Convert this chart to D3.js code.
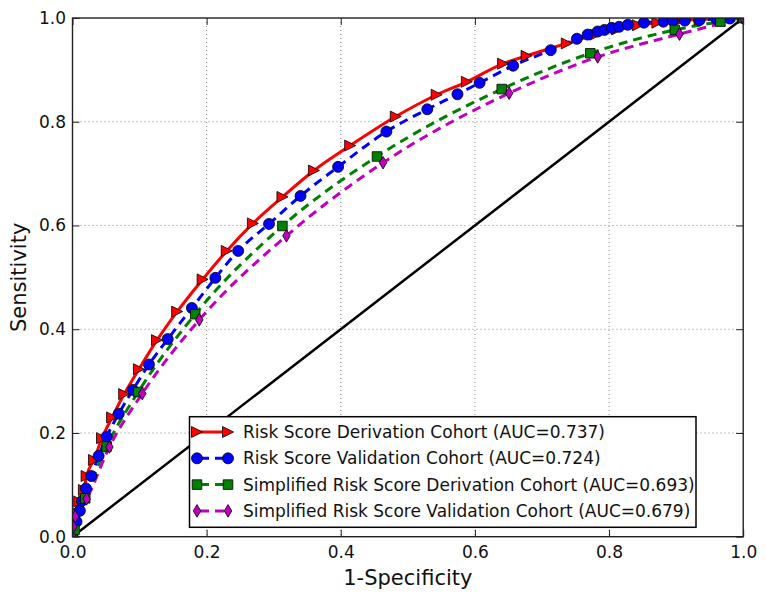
<!DOCTYPE html>
<html><head><meta charset="utf-8">
<script src="https://cdn.jsdelivr.net/npm/d3@7"></script>
<style>html,body{margin:0;padding:0;background:#fff;}svg{display:block;font-family:"DejaVu Sans",sans-serif;}</style>
</head><body><svg id="c" width="766" height="601"></svg>
<script>
const xTicks = [0.0, 0.2, 0.4, 0.6, 0.8, 1.0];
const yTicks = [0.0, 0.2, 0.4, 0.6, 0.8, 1.0];
const seriesNames = [
  "Risk Score Derivation Cohort (AUC=0.737)",
  "Risk Score Validation Cohort (AUC=0.724)",
  "Simplified Risk Score Derivation Cohort (AUC=0.693)",
  "Simplified Risk Score Validation Cohort (AUC=0.679)"
];
const redX = [0,0.003,0.004,0.010,0.017,0.021,0.032,0.044,0.059,0.077,0.099,0.126,0.156,0.194,0.230,0.269,0.313,0.360,0.414,0.482,0.543,0.588,0.642,0.677,0.737,0.780,0.812,0.843,0.872,0.905,0.935,0.965,1];
const redY = [0,0.026,0.048,0.068,0.090,0.117,0.148,0.190,0.230,0.275,0.323,0.379,0.434,0.496,0.551,0.604,0.655,0.706,0.754,0.810,0.852,0.877,0.912,0.927,0.951,0.968,0.978,0.986,0.991,0.995,0.997,0.999,1];
const blueX = [0,0.006,0.011,0.014,0.020,0.028,0.039,0.051,0.069,0.090,0.114,0.142,0.178,0.213,0.247,0.293,0.340,0.396,0.468,0.529,0.574,0.607,0.657,0.713,0.752,0.768,0.783,0.793,0.804,0.815,0.828,0.852,0.881,0.895,0.913,0.935,0.960,0.980,1];
const blueY = [0,0.029,0.050,0.069,0.093,0.117,0.156,0.193,0.237,0.283,0.332,0.381,0.441,0.499,0.551,0.603,0.657,0.713,0.781,0.824,0.853,0.875,0.908,0.938,0.960,0.968,0.974,0.977,0.981,0.983,0.987,0.991,0.993,0.995,0.995,0.996,0.998,0.999,1];
const greenX = [0,0.003,0.019,0.051,0.098,0.183,0.313,0.454,0.640,0.772,0.898,0.966,1];
const greenY = [0,0.013,0.074,0.174,0.279,0.429,0.599,0.733,0.863,0.932,0.977,0.993,1];
const magX = [0,0.001,0.004,0.021,0.055,0.104,0.189,0.319,0.463,0.651,0.783,0.905,1];
const magY = [0,0.019,0.039,0.073,0.173,0.276,0.418,0.580,0.721,0.855,0.925,0.969,1];

const colors = ["#ff0000", "#0000ff", "#008000", "#bf00bf"];
const dashes = [null, "9,6", "9,6", "9,6"];
const markers = ["tri", "circle", "square", "diamond"];

const L = 72.5, R = 743.2, T = 18, B = 536.7;
const x = d3.scaleLinear().domain([0,1]).range([L,R]);
const y = d3.scaleLinear().domain([0,1]).range([B,T]);
const svg = d3.select("#c");

const symTri = {draw(ctx, s){ const h=s; ctx.moveTo(h,0); ctx.lineTo(-h,-h); ctx.lineTo(-h,h); ctx.closePath(); }};
const symDiamond = {draw(ctx, s){ ctx.moveTo(0,-s); ctx.lineTo(s*0.6,0); ctx.lineTo(0,s); ctx.lineTo(-s*0.6,0); ctx.closePath(); }};
const symSquare = {draw(ctx, s){ ctx.rect(-s,-s,2*s,2*s); }};
const symCircle = {draw(ctx, s){ ctx.moveTo(s,0); ctx.arc(0,0,s,0,2*Math.PI); }};
const symbolMap = {tri:[symTri,5.5], circle:[symCircle,5.5], square:[symSquare,4.8], diamond:[symDiamond,6.3]};
function sym(k){ const [t,s]=symbolMap[k]; return d3.symbol().type(t).size(s)(); }

svg.append("defs").append("clipPath").attr("id","clip")
  .append("rect").attr("x",L).attr("y",T).attr("width",R-L).attr("height",B-T);

const grid = svg.append("g");
xTicks.filter(v=>v>0&&v<1).forEach(v=>{
  grid.append("line").attr("x1",x(v)).attr("x2",x(v)).attr("y1",T).attr("y2",B)
    .attr("stroke","#888").attr("stroke-width",1).attr("stroke-dasharray","1,3");
});
yTicks.filter(v=>v>0&&v<1).forEach(v=>{
  grid.append("line").attr("x1",L).attr("x2",R).attr("y1",y(v)).attr("y2",y(v))
    .attr("stroke","#888").attr("stroke-width",1).attr("stroke-dasharray","1,3");
});

const plot = svg.append("g").attr("clip-path","url(#clip)");
plot.append("line").attr("x1",x(0)).attr("y1",y(0)).attr("x2",x(1)).attr("y2",y(1))
  .attr("stroke","#000").attr("stroke-width",2.5);

const seriesData = [[redX,redY],[blueX,blueY],[greenX,greenY],[magX,magY]];
const line = d3.line().x(d=>x(d[0])).y(d=>y(d[1])).curve(d3.curveMonotoneX);

seriesData.forEach(([xs,ys],i)=>{
  const pts = xs.map((v,j)=>[v,ys[j]]);
  const p = plot.append("path").datum(pts).attr("d",line).attr("fill","none")
    .attr("stroke",colors[i]).attr("stroke-width",3);
  if(dashes[i]) p.attr("stroke-dasharray",dashes[i]);
});
seriesData.forEach(([xs,ys],i)=>{
  const pts = xs.map((v,j)=>[v,ys[j]]);
  plot.append("g").selectAll("path").data(pts).join("path")
    .attr("transform",d=>`translate(${x(d[0])},${y(d[1])})`)
    .attr("d",sym(markers[i])).attr("fill",colors[i]).attr("stroke","#000").attr("stroke-width",0.8);
});

svg.append("rect").attr("x",L).attr("y",T).attr("width",R-L).attr("height",B-T)
  .attr("fill","none").attr("stroke","#222").attr("stroke-width",1.4);

const fmt = d3.format(".1f");
svg.append("g").attr("transform",`translate(0,${B})`)
  .call(d3.axisBottom(x).tickValues(xTicks).tickFormat(fmt).tickSizeInner(-7).tickSizeOuter(0).tickPadding(9))
  .call(g=>{g.select(".domain").remove(); g.selectAll("text").attr("font-size",17).attr("fill","#111").attr("font-family","DejaVu Sans"); g.selectAll("line").attr("stroke","#222");});
svg.append("g").attr("transform",`translate(${L},0)`)
  .call(d3.axisLeft(y).tickValues(yTicks).tickFormat(fmt).tickSizeInner(-7).tickSizeOuter(0).tickPadding(6.5))
  .call(g=>{g.select(".domain").remove(); g.selectAll("text").attr("font-size",17).attr("fill","#111").attr("font-family","DejaVu Sans"); g.selectAll("line").attr("stroke","#222");});
svg.append("g").attr("transform",`translate(0,${T})`)
  .call(d3.axisTop(x).tickValues(xTicks).tickFormat("").tickSizeInner(-7).tickSizeOuter(0))
  .call(g=>{g.select(".domain").remove(); g.selectAll("line").attr("stroke","#222");});
svg.append("g").attr("transform",`translate(${R},0)`)
  .call(d3.axisRight(y).tickValues(yTicks).tickFormat("").tickSizeInner(-7).tickSizeOuter(0))
  .call(g=>{g.select(".domain").remove(); g.selectAll("line").attr("stroke","#222");});

svg.append("text").attr("x",(L+R)/2).attr("y",585).attr("text-anchor","middle")
  .attr("font-size",21).attr("fill","#111").text("1-Specificity");
svg.append("text").attr("transform",`translate(26,${(T+B)/2}) rotate(-90)`).attr("text-anchor","middle")
  .attr("font-size",21).attr("fill","#111").text("Sensitivity");

const lg = svg.append("g");
lg.append("rect").attr("x",189.5).attr("y",416.7).attr("width",506.5).attr("height",110.6)
  .attr("fill","#fff").attr("stroke","#000").attr("stroke-width",1.5);
seriesNames.forEach((name,i)=>{
  const cy = 432 + i*26.3;
  const ln = lg.append("line").attr("x1",197).attr("x2",228).attr("y1",cy).attr("y2",cy)
    .attr("stroke",colors[i]).attr("stroke-width",3);
  if(dashes[i]) ln.attr("stroke-dasharray","9,6").attr("stroke-dashoffset",-3);
  [197,228].forEach(mx=>{
    lg.append("path").attr("transform",`translate(${mx},${cy})`).attr("d",sym(markers[i]))
      .attr("fill",colors[i]).attr("stroke","#000").attr("stroke-width",0.8);
  });
  lg.append("text").attr("x",243).attr("y",cy).attr("dy","0.36em").attr("font-size",17)
    .attr("fill","#111").text(name);
});
</script></body></html>
